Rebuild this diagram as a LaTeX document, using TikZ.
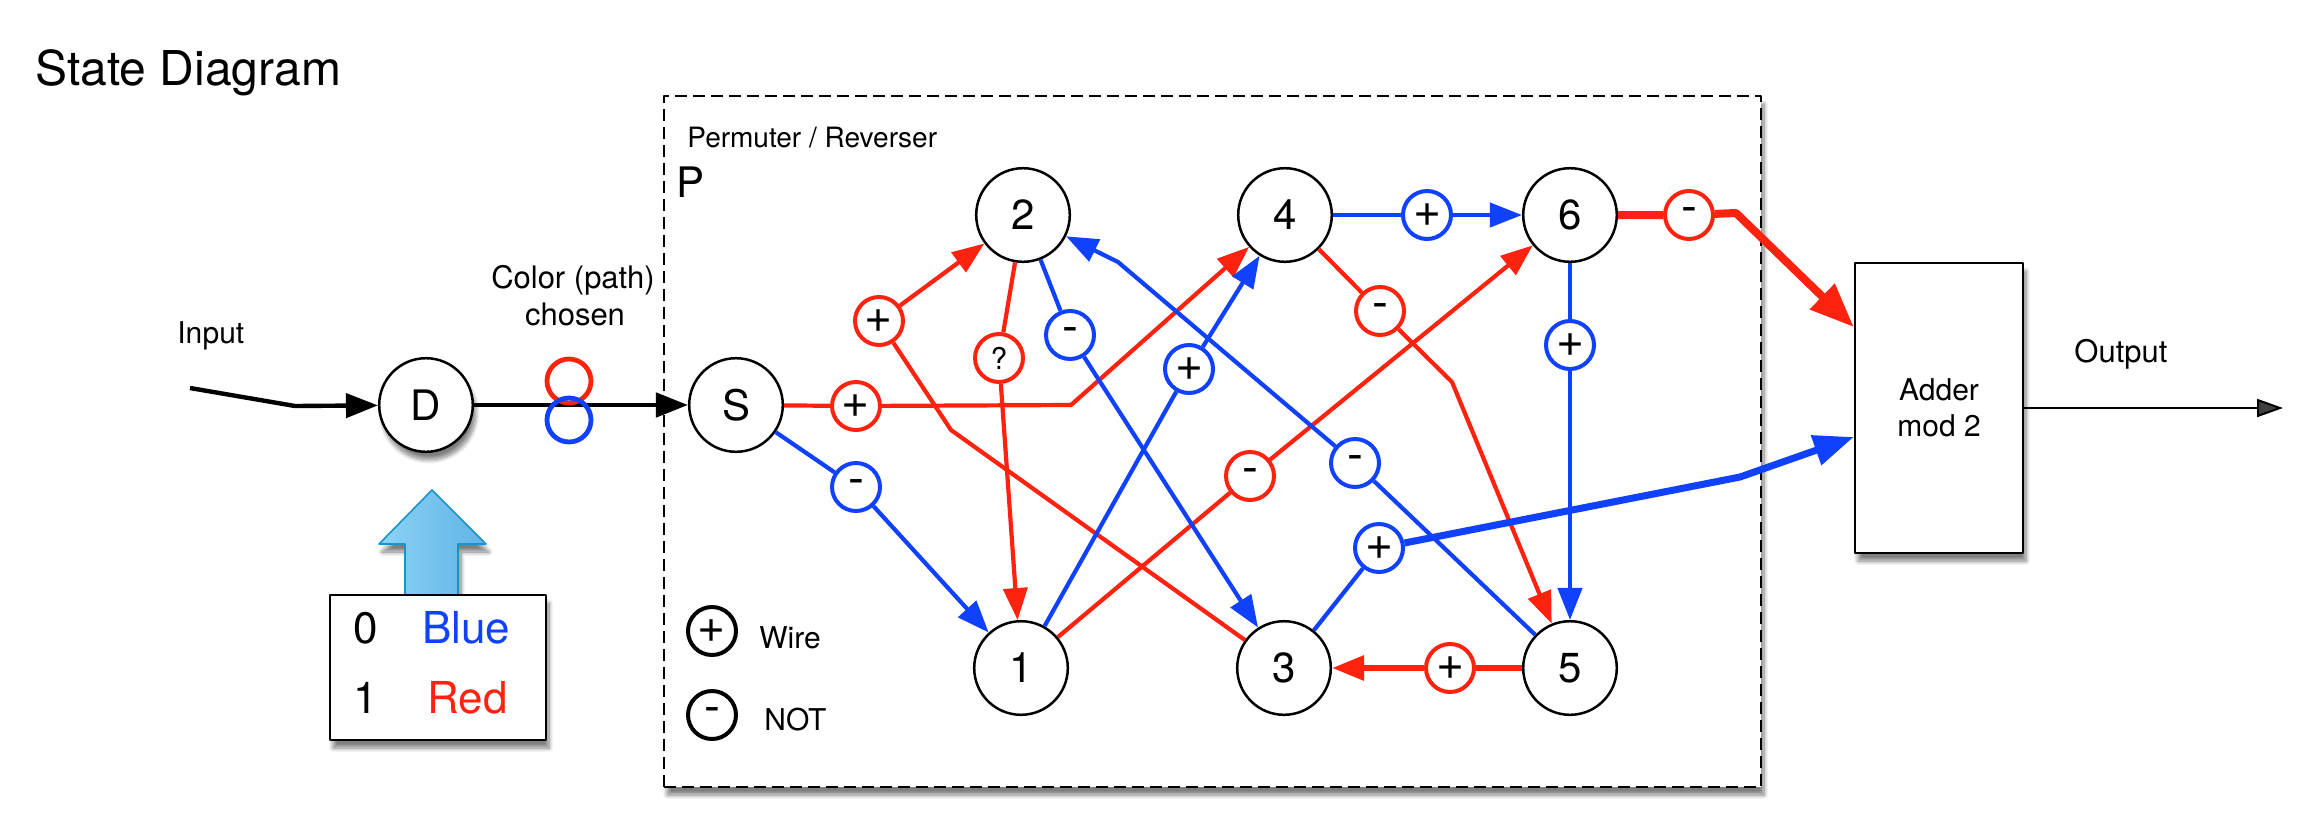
\documentclass[tikz,border=0pt]{standalone}
\usepackage{fontspec}
\setmainfont{TeX Gyre Heros}
\usetikzlibrary{arrows.meta,shadows.blur}
\definecolor{myblue}{RGB}{15,65,255}
\definecolor{myred}{RGB}{255,35,15}
\definecolor{arrowfillA}{RGB}{140,210,245}
\definecolor{arrowfillB}{RGB}{95,180,230}
\definecolor{arrowedge}{RGB}{30,145,205}
\begin{document}
\begin{tikzpicture}[x=0.5pt,y=-0.5pt,line join=round,
  state/.style={circle,draw=black,line width=1.25pt,minimum size=46.8pt,inner sep=0pt,fill=white,font=\fontsize{21}{21}\selectfont},
  op/.style={circle,line width=2pt,minimum size=24pt,inner sep=0pt,fill=white,font=\fontsize{24}{24}\selectfont},
  rop/.style={op,draw=myred},
  bop/.style={op,draw=myblue},
  rl/.style={draw=myred,line width=2.1pt},
  bl/.style={draw=myblue,line width=2.1pt},
  tip/.style={-{Triangle[length=16pt,width=12pt]}},
  txt/.style={inner sep=0pt,anchor=base west},
  shad/.style={blur shadow={shadow xshift=1.5pt,shadow yshift=-4pt,shadow blur steps=10,shadow opacity=50}},
]
\useasboundingbox (0,0) rectangle (2307,820);

% permuter frame
\node[draw=black,line width=1.2pt,dash pattern=on 6pt off 3pt,fill=white,shad,
      minimum width=548.5pt,minimum height=345.5pt,inner sep=0pt] (perm) at (1212.5,441.5) {};

% texts
\node[txt,font=\fontsize{24}{24}\selectfont] (title) at (35,85) {State Diagram};
\node[txt,font=\fontsize{15}{15}\selectfont] (inputlbl) at (177,343) {Input};
\node[anchor=base,inner sep=0pt,font=\fontsize{15.5}{15.5}\selectfont] (col1) at (573,288) {Color (path)};
\node[anchor=base,inner sep=0pt,font=\fontsize{15.5}{15.5}\selectfont] (col2) at (575,325) {chosen};
\node[txt,font=\fontsize{14}{14}\selectfont] (permlbl) at (687,147) {Permuter / Reverser};
\node[txt,font=\fontsize{21}{21}\selectfont] (plbl) at (676,197) {P};
\node[txt,font=\fontsize{15.5}{15.5}\selectfont] (outlbl) at (2074,362) {Output};

% states
\node[state,shad] (D) at (426,405) {D};
\node[state] (S) at (736,405) {S};
\node[state] (n1) at (1021,668) {1};
\node[state] (n2) at (1023,215) {2};
\node[state] (n3) at (1284,668) {3};
\node[state] (n4) at (1285,215) {4};
\node[state] (n5) at (1570,668) {5};
\node[state] (n6) at (1570,215) {6};

% adder
\node[draw=black,line width=1.25pt,fill=white,shad,minimum width=84pt,minimum height=145pt,
      inner sep=0pt,align=center,font=\fontsize{15}{18}\selectfont] (adder) at (1939,408) {Adder\\mod 2};
\path (adder.west) ++(0,-81) coordinate (adr);
\path (adder.west) ++(0,29) coordinate (adb);
\coordinate (outend) at (2283,408);

% operators
\node[rop] (rS) at (856,406) {+};
\node[rop] (r2) at (879,321) {+};
\node[rop,font=\fontsize{15}{15}\selectfont] (rq) at (999,358) {?};
\node[rop] (r1) at (1250,476) {-};
\node[rop] (r4) at (1380,311) {-};
\node[rop] (r5) at (1450,668) {+};
\node[rop] (r6) at (1689,215) {-};
\node[bop] (bS) at (856,487) {-};
\node[bop] (b1) at (1189,369) {+};
\node[bop] (b2) at (1070,335) {-};
\node[bop] (b3) at (1379,548) {+};
\node[bop] (b4) at (1427,215) {+};
\node[bop] (b6) at (1570,345) {+};
\node[bop] (b5) at (1355,463) {-};

% bends
\coordinate (kS) at (1071,405);
\coordinate (k3) at (951,430);
\coordinate (k4) at (1452,382);
\coordinate (k5) at (1118,262);
\coordinate (k6) at (1736,213);
\coordinate (kb) at (1740,477);
\coordinate (kin) at (295,406);
\coordinate (instart) at (190,388);

% input side
\draw[line width=2.2pt,tip] (instart) -- (kin) -- (D);
\draw[line width=2.4pt,tip] (D) -- (S);
\node[circle,draw=myred,line width=2.4pt,minimum size=22pt,inner sep=0pt] (cr) at (569,381) {};
\node[circle,draw=myblue,line width=2.4pt,minimum size=22pt,inner sep=0pt] (cb) at (569,420) {};

% selector box and block arrow
\draw[draw=arrowedge,line width=0.8pt,left color=arrowfillA,right color=arrowfillB,shad]
  (405,595) -- (405,544) -- (379,544) -- (432,490) -- (486,544) -- (458,544) -- (458,595) -- cycle;
\node[draw=black,line width=1.3pt,fill=white,shad,minimum width=108pt,minimum height=72.5pt,inner sep=0pt] (sel) at (438,667.5) {};
\node[txt,font=\fontsize{22}{22}\selectfont] (s0) at (353,643) {0};
\node[txt,font=\fontsize{22}{22}\selectfont,text=myblue] (sb) at (422,643) {Blue};
\node[txt,font=\fontsize{22}{22}\selectfont] (s1) at (353,713) {1};
\node[txt,font=\fontsize{22}{22}\selectfont,text=myred] (sr) at (427,713) {Red};

% legend
\node[op,draw=black] (lw) at (712,631) {+};
\node[op,draw=black] (ln) at (712,715) {-};
\node[txt,font=\fontsize{15}{15}\selectfont] (lwt) at (759,648) {Wire};
\node[txt,font=\fontsize{15}{15}\selectfont] (lnt) at (764,730) {NOT};

% red paths
\draw[rl,tip] (S) -- (rS) -- (kS) -- (n4);
\draw[rl,tip] (n3) -- (k3) -- (r2) -- (n2);
\draw[rl,tip] (n2) -- (rq) -- (n1);
\draw[rl,tip] (n1) -- (r1) -- (n6);
\draw[rl,tip] (n4) -- (r4) -- (k4) -- (n5);
\draw[draw=myred,line width=3pt,tip] (n5) -- (r5) -- (n3);
\draw[draw=myred,line width=4pt,-{Triangle[length=22pt,width=17pt]}] (n6) -- (r6) -- (k6) -- (adr);

% blue paths
\draw[bl,tip] (S) -- (bS) -- (n1);
\draw[bl,tip] (n1) -- (b1) -- (n4);
\draw[bl,tip] (n2) -- (b2) -- (n3);
\draw[bl] (n3) -- (b3);
\draw[draw=myblue,line width=3.5pt,-{Triangle[length=20pt,width=15pt]}] (b3) -- (kb) -- (adb);
\draw[bl,tip] (n4) -- (b4) -- (n6);
\draw[bl,tip] (n6) -- (b6) -- (n5);
\draw[bl,tip] (n5) -- (b5) -- (k5) -- (n2);

% output
\draw[line width=1pt,-{Triangle[length=13pt,width=9pt]}] (adder.east) -- (outend);
\end{tikzpicture}
\end{document}
